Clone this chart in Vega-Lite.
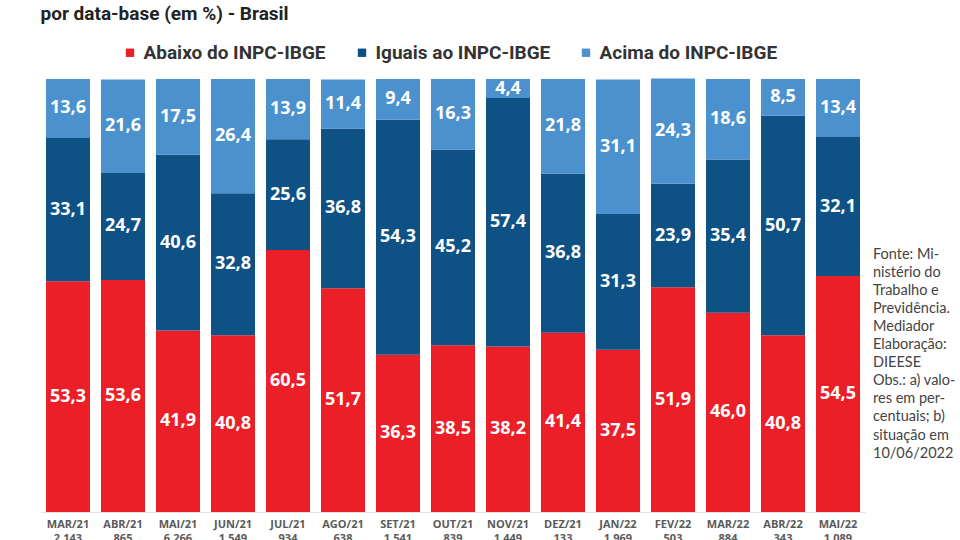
{
  "$schema": "https://vega.github.io/schema/vega-lite/v6.json",
  "width": 825,
  "height": 433,
  "autosize": {"type": "none"},
  "padding": {"left": 40.5, "top": 79, "right": 94.5, "bottom": 28},
  "background": "white",
  "config": {
    "view": {"stroke": null},
    "locale": {"number": {"decimal": ",", "thousands": ".", "grouping": [3], "currency": ["R$", ""]}},
    "axisY": {
      "orient": "right",
      "domain": false,
      "ticks": false,
      "labels": false,
      "grid": false,
      "titleAngle": 0,
      "titleAlign": "left",
      "titleBaseline": "top",
      "titleX": 7,
      "titleY": 168,
      "titleFont": "Lato",
      "titleFontSize": 14.5,
      "titleFontWeight": "normal",
      "titleColor": "#444444",
      "titleLineHeight": 18.1
    }
  },
  "title": {
    "text": "por data-base  (em %) - Brasil",
    "anchor": "start",
    "frame": "group",
    "font": "Roboto",
    "fontSize": 19,
    "fontWeight": "bold",
    "color": "#222222",
    "offset": 19
  },
  "data": {
    "values": [
      {"periodo": "MAR/21 2.143", "categoria": "Abaixo do INPC-IBGE", "ordem": 1, "valor": 53.3},
      {"periodo": "MAR/21 2.143", "categoria": "Iguais ao INPC-IBGE", "ordem": 2, "valor": 33.1},
      {"periodo": "MAR/21 2.143", "categoria": "Acima do INPC-IBGE", "ordem": 3, "valor": 13.6},
      {"periodo": "ABR/21 865", "categoria": "Abaixo do INPC-IBGE", "ordem": 1, "valor": 53.6},
      {"periodo": "ABR/21 865", "categoria": "Iguais ao INPC-IBGE", "ordem": 2, "valor": 24.7},
      {"periodo": "ABR/21 865", "categoria": "Acima do INPC-IBGE", "ordem": 3, "valor": 21.6},
      {"periodo": "MAI/21 6.266", "categoria": "Abaixo do INPC-IBGE", "ordem": 1, "valor": 41.9},
      {"periodo": "MAI/21 6.266", "categoria": "Iguais ao INPC-IBGE", "ordem": 2, "valor": 40.6},
      {"periodo": "MAI/21 6.266", "categoria": "Acima do INPC-IBGE", "ordem": 3, "valor": 17.5},
      {"periodo": "JUN/21 1.549", "categoria": "Abaixo do INPC-IBGE", "ordem": 1, "valor": 40.8},
      {"periodo": "JUN/21 1.549", "categoria": "Iguais ao INPC-IBGE", "ordem": 2, "valor": 32.8},
      {"periodo": "JUN/21 1.549", "categoria": "Acima do INPC-IBGE", "ordem": 3, "valor": 26.4},
      {"periodo": "JUL/21 934", "categoria": "Abaixo do INPC-IBGE", "ordem": 1, "valor": 60.5},
      {"periodo": "JUL/21 934", "categoria": "Iguais ao INPC-IBGE", "ordem": 2, "valor": 25.6},
      {"periodo": "JUL/21 934", "categoria": "Acima do INPC-IBGE", "ordem": 3, "valor": 13.9},
      {"periodo": "AGO/21 638", "categoria": "Abaixo do INPC-IBGE", "ordem": 1, "valor": 51.7},
      {"periodo": "AGO/21 638", "categoria": "Iguais ao INPC-IBGE", "ordem": 2, "valor": 36.8},
      {"periodo": "AGO/21 638", "categoria": "Acima do INPC-IBGE", "ordem": 3, "valor": 11.4},
      {"periodo": "SET/21 1.541", "categoria": "Abaixo do INPC-IBGE", "ordem": 1, "valor": 36.3},
      {"periodo": "SET/21 1.541", "categoria": "Iguais ao INPC-IBGE", "ordem": 2, "valor": 54.3},
      {"periodo": "SET/21 1.541", "categoria": "Acima do INPC-IBGE", "ordem": 3, "valor": 9.4},
      {"periodo": "OUT/21 839", "categoria": "Abaixo do INPC-IBGE", "ordem": 1, "valor": 38.5},
      {"periodo": "OUT/21 839", "categoria": "Iguais ao INPC-IBGE", "ordem": 2, "valor": 45.2},
      {"periodo": "OUT/21 839", "categoria": "Acima do INPC-IBGE", "ordem": 3, "valor": 16.3},
      {"periodo": "NOV/21 1.449", "categoria": "Abaixo do INPC-IBGE", "ordem": 1, "valor": 38.2},
      {"periodo": "NOV/21 1.449", "categoria": "Iguais ao INPC-IBGE", "ordem": 2, "valor": 57.4},
      {"periodo": "NOV/21 1.449", "categoria": "Acima do INPC-IBGE", "ordem": 3, "valor": 4.4},
      {"periodo": "DEZ/21 133", "categoria": "Abaixo do INPC-IBGE", "ordem": 1, "valor": 41.4},
      {"periodo": "DEZ/21 133", "categoria": "Iguais ao INPC-IBGE", "ordem": 2, "valor": 36.8},
      {"periodo": "DEZ/21 133", "categoria": "Acima do INPC-IBGE", "ordem": 3, "valor": 21.8},
      {"periodo": "JAN/22 1.969", "categoria": "Abaixo do INPC-IBGE", "ordem": 1, "valor": 37.5},
      {"periodo": "JAN/22 1.969", "categoria": "Iguais ao INPC-IBGE", "ordem": 2, "valor": 31.3},
      {"periodo": "JAN/22 1.969", "categoria": "Acima do INPC-IBGE", "ordem": 3, "valor": 31.1},
      {"periodo": "FEV/22 503", "categoria": "Abaixo do INPC-IBGE", "ordem": 1, "valor": 51.9},
      {"periodo": "FEV/22 503", "categoria": "Iguais ao INPC-IBGE", "ordem": 2, "valor": 23.9},
      {"periodo": "FEV/22 503", "categoria": "Acima do INPC-IBGE", "ordem": 3, "valor": 24.3},
      {"periodo": "MAR/22 884", "categoria": "Abaixo do INPC-IBGE", "ordem": 1, "valor": 46.0},
      {"periodo": "MAR/22 884", "categoria": "Iguais ao INPC-IBGE", "ordem": 2, "valor": 35.4},
      {"periodo": "MAR/22 884", "categoria": "Acima do INPC-IBGE", "ordem": 3, "valor": 18.6},
      {"periodo": "ABR/22 343", "categoria": "Abaixo do INPC-IBGE", "ordem": 1, "valor": 40.8},
      {"periodo": "ABR/22 343", "categoria": "Iguais ao INPC-IBGE", "ordem": 2, "valor": 50.7},
      {"periodo": "ABR/22 343", "categoria": "Acima do INPC-IBGE", "ordem": 3, "valor": 8.5},
      {"periodo": "MAI/22 1.089", "categoria": "Abaixo do INPC-IBGE", "ordem": 1, "valor": 54.5},
      {"periodo": "MAI/22 1.089", "categoria": "Iguais ao INPC-IBGE", "ordem": 2, "valor": 32.1},
      {"periodo": "MAI/22 1.089", "categoria": "Acima do INPC-IBGE", "ordem": 3, "valor": 13.4}
    ]
  },
  "layer": [
    {
      "mark": {"type": "bar"},
      "encoding": {
        "x": {
          "field": "periodo",
          "type": "nominal",
          "sort": null,
          "scale": {"paddingInner": 0.2, "paddingOuter": 0.1},
          "axis": {
            "title": null,
            "labelExpr": "split(datum.value, ' ')",
            "labelAngle": 0,
            "labelFont": "Open Sans",
            "labelFontSize": 11,
            "labelFontWeight": "bold",
            "labelColor": "#5a5a5a",
            "labelLineHeight": 14,
            "labelPadding": 6,
            "ticks": false,
            "domainColor": "#e3e3e3",
            "domainWidth": 1
          }
        },
        "y": {
          "field": "valor",
          "type": "quantitative",
          "stack": "zero",
          "scale": {"domain": [0, 100], "nice": false},
          "title": ["Fonte: Mi-", "nistério do", "Trabalho e", "Previdência.", "Mediador", "Elaboração:", "DIEESE", "Obs.: a) valo-", "res em per-", "centuais; b)", "situação em", "10/06/2022"]
        },
        "color": {
          "field": "categoria",
          "type": "nominal",
          "scale": {
            "domain": ["Abaixo do INPC-IBGE", "Iguais ao INPC-IBGE", "Acima do INPC-IBGE"],
            "range": ["#EC1E27", "#0E5185", "#4A91CD"]
          },
          "legend": {
            "orient": "none",
            "legendX": 80,
            "legendY": -36,
            "direction": "horizontal",
            "title": null,
            "symbolType": "square",
            "symbolSize": 70,
            "symbolStrokeWidth": 0,
            "labelFont": "Roboto",
            "labelFontSize": 19,
            "labelFontWeight": "bold",
            "labelColor": "#333333",
            "labelOffset": 4,
            "columnPadding": 26,
            "labelLimit": 300
          }
        },
        "order": {"field": "ordem", "type": "quantitative"}
      }
    },
    {
      "transform": [
        {"stack": "valor", "groupby": ["periodo"], "sort": [{"field": "ordem"}], "as": ["v0", "v1"]},
        {"calculate": "(datum.v0 + datum.v1) / 2", "as": "meio"}
      ],
      "mark": {"type": "text", "color": "white", "font": "Open Sans", "fontSize": 18, "fontWeight": "bold", "baseline": "middle", "align": "center"},
      "encoding": {
        "x": {"field": "periodo", "type": "nominal", "sort": null},
        "y": {"field": "meio", "type": "quantitative"},
        "text": {"field": "valor", "type": "quantitative", "format": ".1f"}
      }
    }
  ]
}
